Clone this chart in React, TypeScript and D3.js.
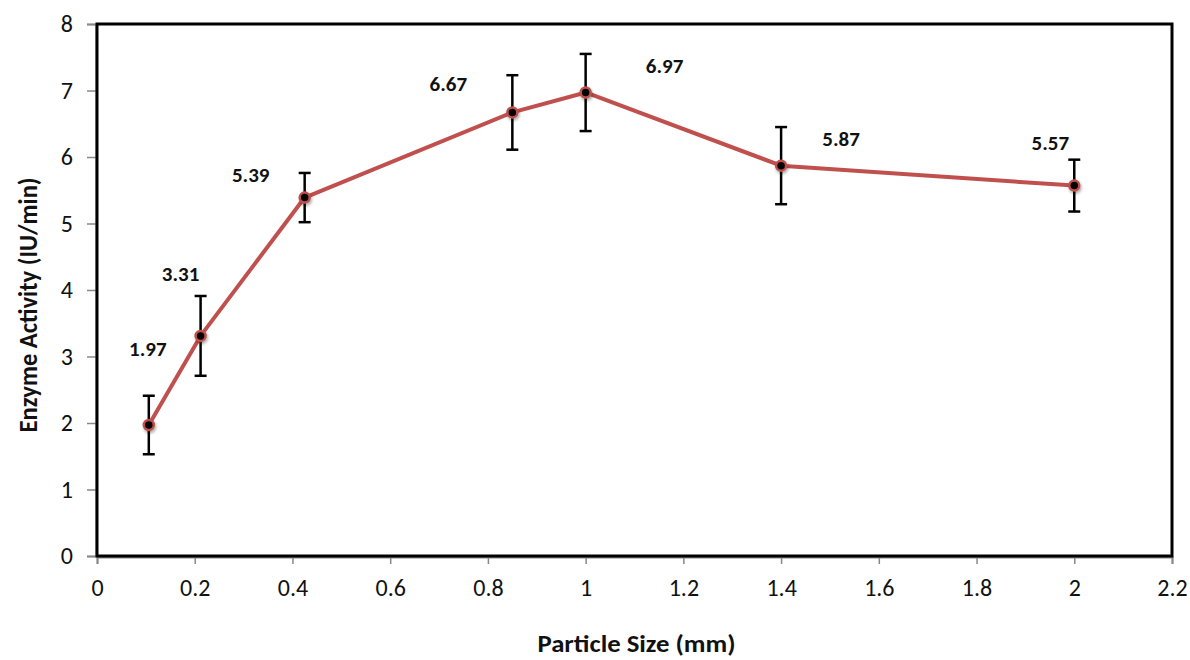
import { useEffect, useRef } from 'react';
import * as d3 from 'd3';

const particleSizes = [0.106, 0.212, 0.425, 0.85, 1.0, 1.4, 2.0];
const activity = [1.97, 3.31, 5.39, 6.67, 6.97, 5.87, 5.57];
const errors = [0.44, 0.6, 0.37, 0.56, 0.58, 0.58, 0.39];
const labelOffsets = [[-1, -69], [-20, -55], [-54, -16], [-64, -21], [79, -19], [60, -20], [-24, -36]];
const xTicks = [0, 0.2, 0.4, 0.6, 0.8, 1, 1.2, 1.4, 1.6, 1.8, 2, 2.2];
const yTicks = [0, 1, 2, 3, 4, 5, 6, 7, 8];

const FONT = 'Carlito, Lato, "Open Sans", sans-serif';

export default function App() {
  const svgRef = useRef<SVGSVGElement>(null);

  useEffect(() => {
    if (!svgRef.current) return;
    const width = 1190;
    const height = 660;
    const svg = d3.select(svgRef.current);
    svg.selectAll('*').remove();
    svg.attr('width', width).attr('height', height);

    const margin = { top: 24, right: 18, bottom: 104, left: 97 };
    const x = d3.scaleLinear().domain([0, 2.2]).range([margin.left, width - margin.right]);
    const y = d3.scaleLinear().domain([0, 8]).range([height - margin.bottom, margin.top]);

    const defs = svg.append('defs');
    const filter = defs.append('filter').attr('id', 'shadow').attr('x', '-50%').attr('y', '-50%').attr('width', '200%').attr('height', '200%');
    filter.append('feDropShadow').attr('dx', 1).attr('dy', 2).attr('stdDeviation', 1.5).attr('flood-color', '#000').attr('flood-opacity', 0.35);

    // Y axis
    const yAxis = svg.append('g')
      .attr('transform', `translate(${margin.left - 1},0)`)
      .call(d3.axisLeft(y).tickValues(yTicks).tickFormat(d3.format('d')).tickSize(9).tickPadding(14));
    yAxis.select('.domain').attr('stroke', '#888').attr('stroke-width', 2);
    yAxis.selectAll('.tick line').attr('stroke', '#888').attr('stroke-width', 1.5);
    yAxis.selectAll('text').attr('font-family', FONT).attr('font-size', 24).attr('fill', '#111');

    // X axis
    const xAxis = svg.append('g')
      .attr('transform', `translate(0,${height - margin.bottom + 1})`)
      .call(d3.axisBottom(x).tickValues(xTicks).tickFormat(d => String(+(+d).toFixed(1))).tickSize(7).tickPadding(15));
    xAxis.select('.domain').attr('stroke', '#888').attr('stroke-width', 2);
    xAxis.selectAll('.tick line').attr('stroke', '#888').attr('stroke-width', 1.5);
    xAxis.selectAll('text').attr('font-family', FONT).attr('font-size', 24).attr('fill', '#111');

    // Plot frame
    svg.append('rect')
      .attr('x', x(0)).attr('y', y(8))
      .attr('width', x(2.2) - x(0)).attr('height', y(0) - y(8))
      .attr('fill', 'none').attr('stroke', '#000').attr('stroke-width', 3);

    const data = particleSizes.map((s, i) => ({ s, v: activity[i], e: errors[i], off: labelOffsets[i] }));

    // Line
    svg.append('path')
      .datum(data)
      .attr('fill', 'none')
      .attr('stroke', '#c0504d')
      .attr('stroke-width', 4)
      .attr('stroke-linejoin', 'round')
      .attr('d', d3.line<typeof data[0]>().x(d => x(d.s)).y(d => y(d.v)));

    // Error bars
    const eb = svg.append('g').attr('stroke', '#000').attr('stroke-width', 2.5);
    data.forEach(d => {
      const cx = x(d.s);
      eb.append('line').attr('x1', cx).attr('x2', cx).attr('y1', y(d.v + d.e)).attr('y2', y(d.v - d.e));
      eb.append('line').attr('x1', cx - 6).attr('x2', cx + 6).attr('y1', y(d.v + d.e)).attr('y2', y(d.v + d.e));
      eb.append('line').attr('x1', cx - 6).attr('x2', cx + 6).attr('y1', y(d.v - d.e)).attr('y2', y(d.v - d.e));
    });

    // Markers
    svg.append('g').selectAll('circle')
      .data(data)
      .enter()
      .append('circle')
      .attr('cx', d => x(d.s))
      .attr('cy', d => y(d.v))
      .attr('r', 5)
      .attr('fill', '#000')
      .attr('stroke', '#c0504d')
      .attr('stroke-width', 2.5)
      .attr('filter', 'url(#shadow)');

    // Value labels
    svg.append('g').selectAll('text')
      .data(data)
      .enter()
      .append('text')
      .attr('x', d => x(d.s) + d.off[0])
      .attr('y', d => y(d.v) + d.off[1])
      .attr('text-anchor', 'middle')
      .attr('font-family', FONT)
      .attr('font-weight', 'bold')
      .attr('font-size', 21)
      .attr('fill', '#111')
      .text(d => d.v.toFixed(2));

    // Axis titles
    svg.append('text')
      .attr('x', (x(0) + x(2.2)) / 2 + 2)
      .attr('y', 652)
      .attr('text-anchor', 'middle')
      .attr('font-family', FONT)
      .attr('font-weight', 'bold')
      .attr('font-size', 24)
      .attr('textLength', 198)
      .attr('lengthAdjust', 'spacingAndGlyphs')
      .attr('fill', '#111')
      .text('Particle Size (mm)');

    svg.append('text')
      .attr('transform', `translate(37,305) rotate(-90)`)
      .attr('text-anchor', 'middle')
      .attr('font-family', FONT)
      .attr('font-weight', 'bold')
      .attr('font-size', 26)
      .attr('textLength', 255)
      .attr('lengthAdjust', 'spacingAndGlyphs')
      .attr('fill', '#111')
      .text('Enzyme Activity (IU/min)');
  }, []);

  return <svg ref={svgRef} style={{ position: 'absolute', left: 0, top: 0 }}></svg>;
}
